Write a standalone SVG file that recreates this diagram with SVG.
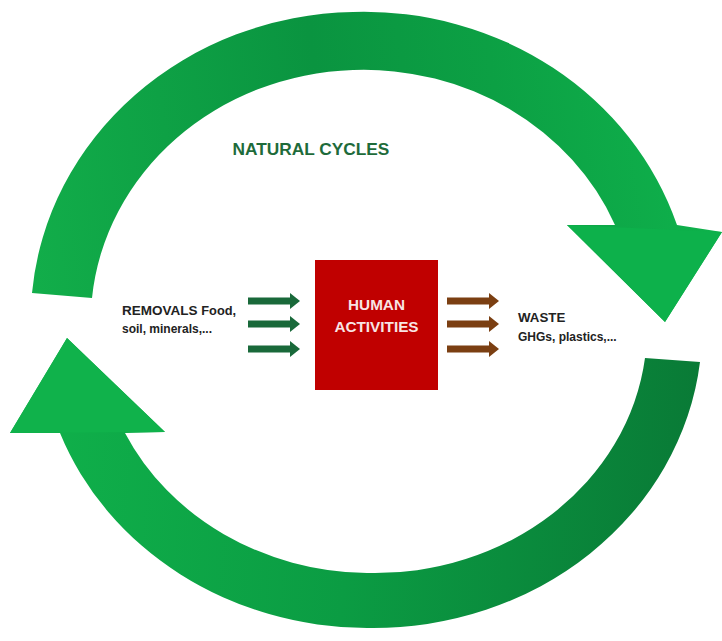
<svg xmlns="http://www.w3.org/2000/svg" width="722" height="641" viewBox="0 0 722 641">
  <defs>
    <linearGradient id="gTop" gradientUnits="userSpaceOnUse" x1="30" y1="300" x2="722" y2="200">
      <stop offset="0" stop-color="#12ae4a"/>
      <stop offset="0.45" stop-color="#0a9440"/>
      <stop offset="0.7" stop-color="#0ca044"/>
      <stop offset="1" stop-color="#0fb24c"/>
    </linearGradient>
    <linearGradient id="gBot" gradientUnits="userSpaceOnUse" x1="10" y1="400" x2="700" y2="450">
      <stop offset="0" stop-color="#10b24b"/>
      <stop offset="0.5" stop-color="#0b9c43"/>
      <stop offset="1" stop-color="#097a36"/>
    </linearGradient>
    <path id="arr" d="M0 -3.5 H42 V-8 L52 0 L42 8 V3.5 H0 Z"/>
  </defs>
  <style>
    .lbl { font-family: "Liberation Sans", Arial, sans-serif; font-weight: bold; }
    .dark { fill: #222222; }
    .green { fill: #19693a; }
    .brown { fill: #7b3f12; }
  </style>
  <rect width="722" height="641" fill="#ffffff"/>

  <g id="cycle-top">
    <path fill="url(#gTop)" d="M32 293 A329 308 0 0 1 353 12 A329 308 0 0 1 677 225 L722 232 L665 322 L567 225 L615 225 A272 252 0 0 0 353 70 A272 252 0 0 0 92 298 Z"/>
    <path fill="#0db14b" d="M567 225 L722 232 L665 322 Z"/>
  </g>
  <g id="cycle-bottom">
    <path fill="url(#gBot)" d="M700 362 A329 300 0 0 1 367 628 A329 300 0 0 1 60 433 L10 433 L67 338 L165 432 L125 433 A272 245 0 0 0 367 573 A272 245 0 0 0 645 358 Z"/>
    <path fill="#10b24b" d="M10 433 L67 338 L165 432 Z"/>
  </g>

  <g id="natural-cycles">
    <text class="lbl" x="311" y="155" text-anchor="middle" font-size="17.3" fill="#1e6b3a">NATURAL CYCLES</text>
  </g>

  <g id="human-activities">
    <rect x="315" y="260" width="123" height="130" fill="#c00000"/>
    <text class="lbl" x="376.5" y="310" text-anchor="middle" font-size="15.3" fill="#f8e4e4">HUMAN</text>
    <text class="lbl" x="376.5" y="332" text-anchor="middle" font-size="15.3" fill="#f8e4e4">ACTIVITIES</text>
  </g>

  <g id="removals">
    <text class="lbl dark" x="122" y="315" font-size="13.5">REMOVALS <tspan font-size="12.8">Food,</tspan></text>
    <text class="lbl dark" x="122" y="333" font-size="12">soil, minerals,...</text>
  </g>

  <g id="waste">
    <text class="lbl dark" x="518" y="322" font-size="13.3">WASTE</text>
    <text class="lbl dark" x="518" y="341" font-size="12">GHGs, plastics,...</text>
  </g>

  <g id="connectors">
    <use href="#arr" class="green" transform="translate(248 301)"/>
    <use href="#arr" class="green" transform="translate(248 324)"/>
    <use href="#arr" class="green" transform="translate(248 349)"/>
    <use href="#arr" class="brown" transform="translate(447 301)"/>
    <use href="#arr" class="brown" transform="translate(447 324)"/>
    <use href="#arr" class="brown" transform="translate(447 349)"/>
  </g>
</svg>
